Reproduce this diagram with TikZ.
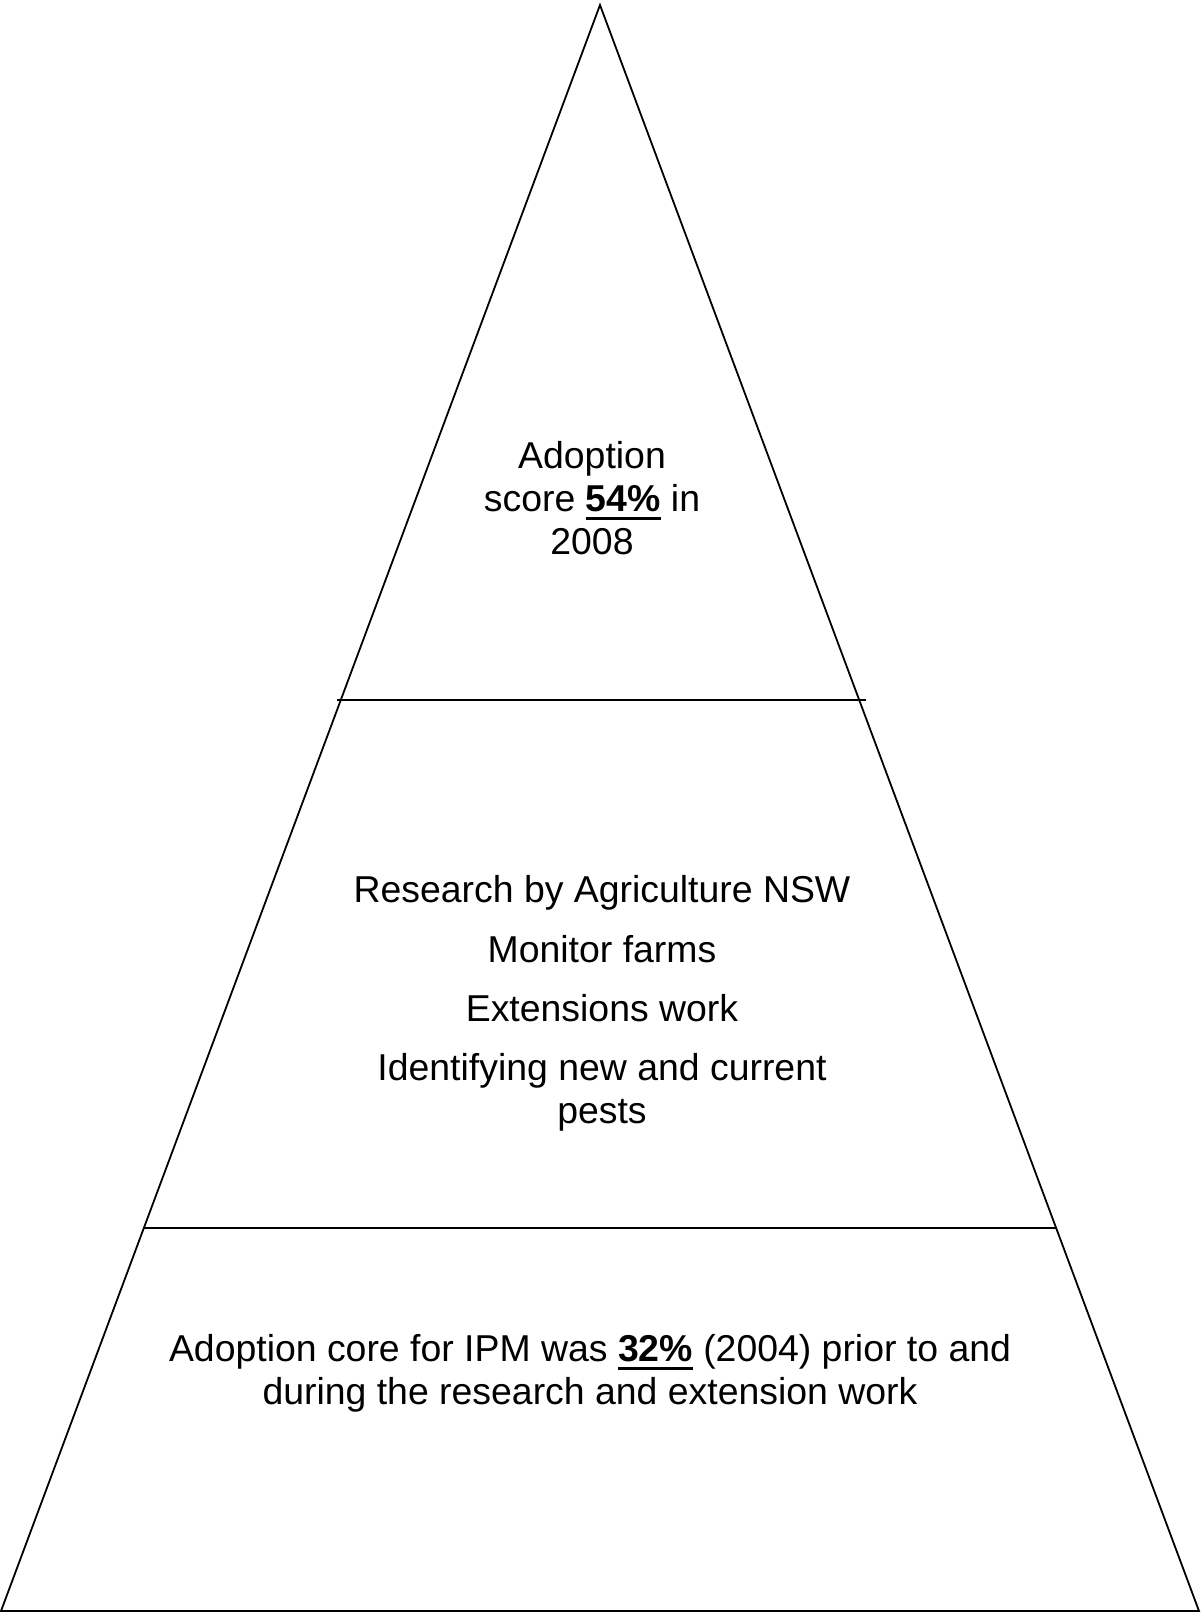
\documentclass[tikz,border=0pt]{standalone}
\usepackage{fontspec}
\setmainfont{Liberation Sans}
\usetikzlibrary{calc}

\newcommand\uscore[1]{\setbox0\hbox{\textbf{#1}}\rlap{\rule[-4.2pt]{\wd0}{1.5pt}}\box0\relax}

\tikzset{
  edge/.style={draw=black,line width=0.9pt,line join=miter},
  label/.style={align=center,inner sep=0pt,font=\fontsize{18.7}{21.5}\selectfont}
}

\begin{document}
\begin{tikzpicture}[x=0.5pt,y=-0.5pt]

\useasboundingbox (0,0) rectangle (1201,1614);

\coordinate (T) at (600,5);
\coordinate (BL) at (1,1611);
\coordinate (BR) at (1199,1611);

% outer triangle
\draw[edge] (T) -- (BR) -- (BL) -- cycle;

% dividers
\coordinate (U1) at (337,700);
\coordinate (U2) at (866,700);
\coordinate (L1) at ($(T)!0.7615!(BL)$);
\coordinate (L2) at ($(T)!0.7615!(BR)$);
\draw[edge] (U1) -- (U2);
\draw[edge] (L1) -- (L2);

% top
\node[label] (score) at (592,498) {Adoption\\score \uscore{54\%} in\\2008};

% middle
\node[label] (research) at (602,893) {Research by Agriculture NSW};
\node[label] (monitor) at (602,949) {Monitor farms};
\node[label] (extn) at (602,1008) {Extensions work};
\node[label] (pests) at (602,1092) {Identifying new and current\\pests};

% bottom
\node[label] (core) at (590,1373) {Adoption core for IPM was \uscore{32\%} (2004) prior to and\\during the research and extension work};

\end{tikzpicture}
\end{document}
